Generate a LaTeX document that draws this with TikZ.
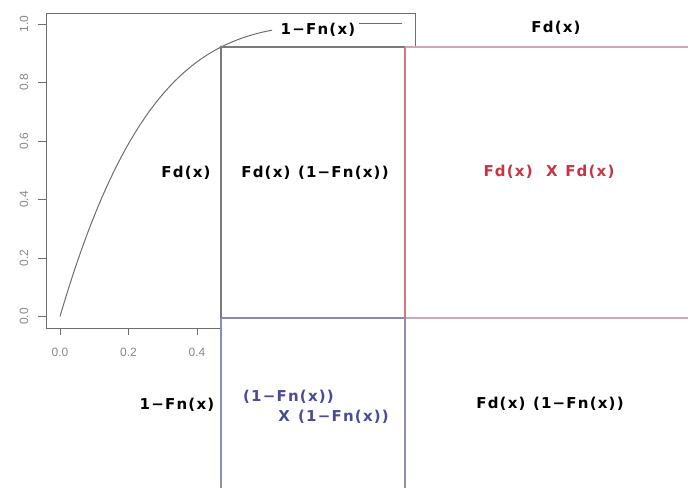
\documentclass[tikz,border=0pt]{standalone}
\usepackage{fontspec}
\setmainfont{DejaVu Sans}[LetterSpace=8]
\newfontfamily\tickfont{Liberation Sans}
\definecolor{frame}{HTML}{6E6E6E}
\definecolor{gridgray}{HTML}{7A7A7A}
\definecolor{gridblue}{HTML}{8C8CB8}
\definecolor{gridred}{HTML}{D07888}
\definecolor{gridpink}{HTML}{D0A8B0}
\definecolor{txtred}{HTML}{C83444}
\definecolor{txtblue}{HTML}{4A4A98}
\definecolor{ticktxt}{HTML}{888888}
\tikzset{
  lab/.style={font=\fontsize{15}{17}\selectfont\bfseries, inner sep=0pt},
  tick/.style={font=\tickfont\fontsize{12}{13}\selectfont, text=ticktxt, inner sep=0pt},
  framel/.style={draw=frame, line width=0.9pt},
  gline/.style={line width=1.1pt},
}
\begin{document}
\begin{tikzpicture}[x=1pt,y=-1pt]
\useasboundingbox (0,0) rectangle (688,488);
\fill[white] (0,0) rectangle (688,488);
% plot frame (visible parts)
\coordinate (ftl) at (46,13);
\coordinate (ftr) at (415,13);
\coordinate (fbl) at (46,328);
\coordinate (fbm) at (221,328);
\coordinate (frm) at (415,47);
\draw[framel] (fbm) -- (fbl) -- (ftl) -- (ftr) -- (frm);
% y ticks
\foreach \v/\t in {0/0.0,0.2/0.2,0.4/0.4,0.6/0.6,0.8/0.8,1/1.0}{
  \draw[framel] (38,316.5-292.5*\v) -- (46,316.5-292.5*\v);
  \node[tick, rotate=90] at (24,316.5-292.5*\v) {\t};
}
% x ticks
\foreach \v/\t in {0/0.0,0.2/0.2,0.4/0.4}{
  \draw[framel] (60+342.5*\v,328) -- (60+342.5*\v,335);
  \node[tick] at (60+342.5*\v,352) {\t};
}
% curve
\draw[frame, line width=1pt, domain=0:0.62, samples=60, smooth]
  plot ({60+342.5*\x},{316.5-292.5*(1-(1-\x)^4)});
\fill[frame] (221,47) circle (1.6);
% legend
\node[lab] (leg) at (318,30) {1−Fn(x)};
\coordinate (l1) at (359,23.5);
\coordinate (l2) at (402,23.5);
\draw[frame, line width=1pt] (l1) -- (l2);
% grid
\coordinate (a1) at (221,47);
\coordinate (a2) at (405,47);
\coordinate (a3) at (688,47);
\coordinate (b1) at (221,318);
\coordinate (b2) at (405,318);
\coordinate (b3) at (688,318);
\coordinate (c1) at (221,488);
\coordinate (c2) at (405,488);
\draw[gline, gridgray] (a2) -- (a1) -- (b1);
\draw[gline, gridpink] (a2) -- (a3);
\draw[gline, gridblue] (b1) -- (c1);
\draw[gline, gridblue!80!gray] (b1) -- (b2);
\draw[gline, gridpink] (b2) -- (b3);
\draw[gline, gridred] (a2) -- (b2);
\draw[gline, gridblue] (b2) -- (c2);
% labels
\node[lab] (top) at (556,28) {Fd(x)};
\node[lab] (lf) at (186,173) {Fd(x)};
\node[lab] (m1) at (315,173) {Fd(x)\hspace{0.5em}(1−Fn(x))};
\node[lab, text=txtred] (r1) at (549,172) {Fd(x)\hspace{0.9em}X\hspace{0.5em}Fd(x)};
\node[lab] (lb) at (177,405) {1−Fn(x)};
\node[lab, text=txtblue, anchor=west] (bl1) at (243,397) {(1−Fn(x))};
\node[lab, text=txtblue, anchor=east] (bl2) at (389,417) {X\hspace{0.55em}(1−Fn(x))};
\node[lab] (br) at (550,404) {Fd(x)\hspace{0.5em}(1−Fn(x))};
\end{tikzpicture}
\end{document}
